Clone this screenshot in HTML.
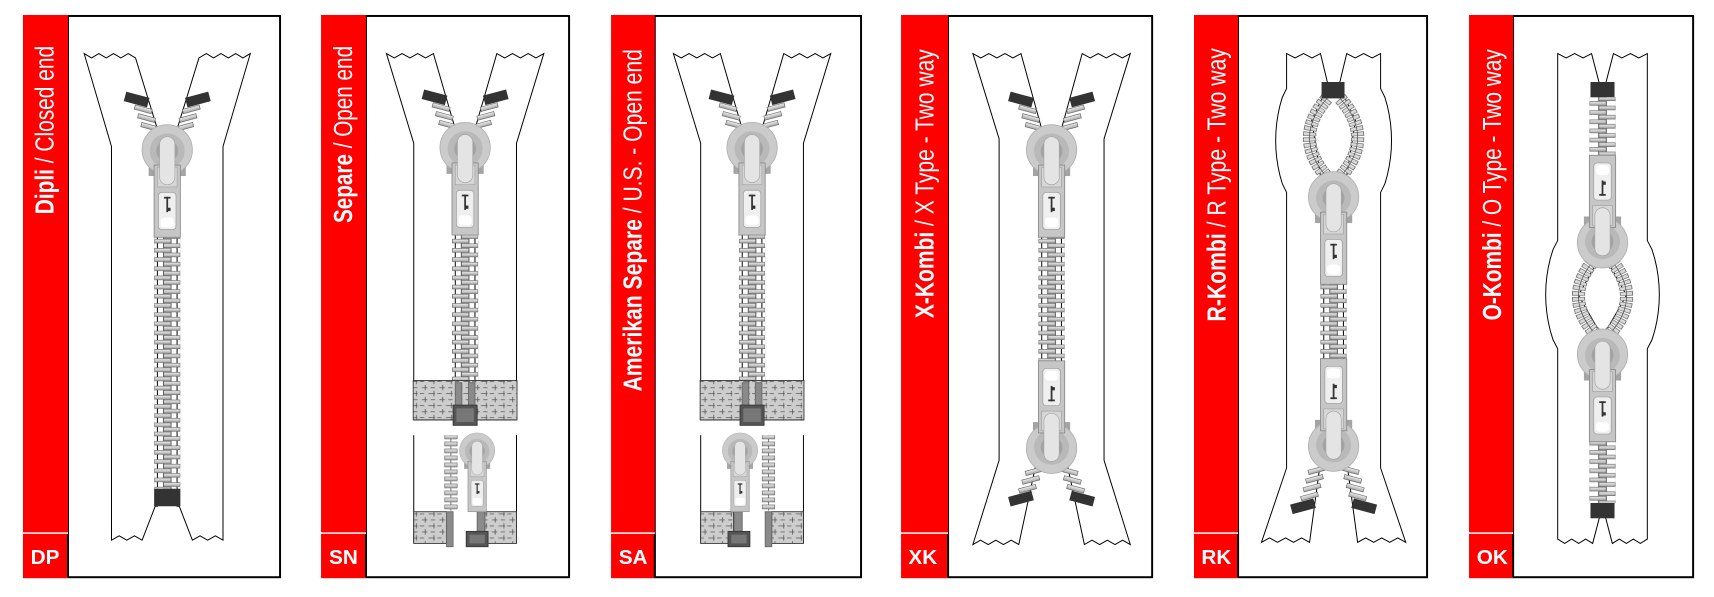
<!DOCTYPE html>
<html><head><meta charset="utf-8">
<style>
html,body{margin:0;padding:0;background:#fff;}
svg{display:block;}
.side{font-family:"Liberation Sans Narrow","Liberation Sans",sans-serif;font-size:24px;fill:#fff;}
.code{font-family:"Liberation Sans",sans-serif;font-size:19px;font-weight:bold;fill:#fff;}
</style></head>
<body>
<svg id="svg" xmlns="http://www.w3.org/2000/svg" width="1714" height="597" viewBox="0 0 1568 546" preserveAspectRatio="none">
<defs>
<linearGradient id="tg" x1="0" y1="0" x2="0" y2="1"><stop offset="0" stop-color="#f0f0f0"/><stop offset="1" stop-color="#a4a4a4"/></linearGradient>
<pattern id="tp" patternUnits="userSpaceOnUse" x="-12" y="0" width="24" height="8.4">
<rect x="0.3" y="0.4" width="15" height="3.5" fill="url(#tg)" stroke="#6a6a6a" stroke-width="0.6"/>
<rect x="8.7" y="4.6" width="15" height="3.5" fill="url(#tg)" stroke="#6a6a6a" stroke-width="0.6"/>
</pattern>
<pattern id="tp2" patternUnits="userSpaceOnUse" x="0" y="0" width="12" height="6.4">
<rect x="0.3" y="1" width="11.4" height="3.6" fill="url(#tg)" stroke="#6a6a6a" stroke-width="0.6"/>
</pattern>
<pattern id="bp" patternUnits="userSpaceOnUse" x="0" y="0" width="16" height="11">
<rect width="16" height="11" fill="#cdcdcd"/>
<path d="M2 2.5h5M10 2.5h4M0 8h4M8 8h6M5 0v5M13 5.5v5" stroke="#555" stroke-width="0.7" fill="none"/>
</pattern>
</defs>
<g id="draw"></g>
<g id="labels">
<text class="side" transform="translate(49,42) rotate(-90)" text-anchor="end" textLength="154" lengthAdjust="spacingAndGlyphs"><tspan font-weight="bold">Dipli</tspan> / Closed end</text>
<text class="side" transform="translate(322,42) rotate(-90)" text-anchor="end" textLength="162" lengthAdjust="spacingAndGlyphs"><tspan font-weight="bold">Separe</tspan> / Open end</text>
<text class="side" transform="translate(587,45) rotate(-90)" text-anchor="end" textLength="313" lengthAdjust="spacingAndGlyphs"><tspan font-weight="bold">Amerikan Separe</tspan> / U.S. - Open end</text>
<text class="side" transform="translate(854,45) rotate(-90)" text-anchor="end" textLength="246" lengthAdjust="spacingAndGlyphs"><tspan font-weight="bold">X-Kombi</tspan> / X Type - Two way</text>
<text class="side" transform="translate(1121,44) rotate(-90)" text-anchor="end" textLength="250" lengthAdjust="spacingAndGlyphs"><tspan font-weight="bold">R-Kombi</tspan> / R Type - Two way</text>
<text class="side" transform="translate(1373,45) rotate(-90)" text-anchor="end" textLength="248" lengthAdjust="spacingAndGlyphs"><tspan font-weight="bold">O-Kombi</tspan> / O Type - Two way</text>
<text class="code" x="28" y="516">DP</text>
<text class="code" x="301" y="516">SN</text>
<text class="code" x="566" y="516">SA</text>
<text class="code" x="831" y="516">XK</text>
<text class="code" x="1099" y="516">RK</text>
<text class="code" x="1351" y="516">OK</text>
</g>
</svg>
<script>
const NS='http://www.w3.org/2000/svg';
const G=document.getElementById('draw');
function el(t,a,p){const e=document.createElementNS(NS,t);for(const k in a)e.setAttribute(k,a[k]);(p||G).appendChild(e);return e;}
function zz(x1,x2,y,a){const p=[];const n=Math.max(2,Math.round(Math.abs(x2-x1)/7));for(let i=0;i<=n;i++)p.push([x1+(x2-x1)*i/n,y+(i%2?a:0)]);return p;}
function bulge(x0,bx,y1,y2){const p=[];for(let i=0;i<=12;i++){const y=y1+(y2-y1)*i/12;p.push([x0+(bx-x0)*Math.pow(Math.sin(Math.PI*i/12),0.7),y]);}return p;}
function tape(cx,L){
 el('polygon',{points:L.map(q=>(cx+q[0])+','+q[1]).join(' '),fill:'#fff',stroke:'#000','stroke-width':0.9});
 el('polygon',{points:L.map(q=>(cx-q[0])+','+q[1]).join(' '),fill:'#fff',stroke:'#000','stroke-width':0.9});
}
function teeth(cx,y1,y2){const g=el('g',{transform:`translate(${cx},0)`});
 el('rect',{x:-3.5,y:y1,width:7,height:y2-y1,fill:'#fff',stroke:'#333','stroke-width':0.7},g);
 el('rect',{x:-12,y:y1,width:24,height:y2-y1,fill:'url(#tp)'},g);}
function teeth2(x,y1,y2){const g=el('g',{transform:`translate(${x},0)`});
 el('line',{x1:6,y1:y1,x2:6,y2:y2,stroke:'#333','stroke-width':0.6},g);
 el('rect',{x:0,y:y1,width:12,height:y2-y1,fill:'url(#tp2)'},g);}
function slider(cx,cy,flip,s){s=s||1;const g=el('g',{transform:`translate(${cx},${cy}) scale(${s},${flip?-s:s})`});
 el('rect',{x:-17,y:8,width:34,height:16,fill:'#a4a4a4'},g);
 el('circle',{r:23,fill:'#cbcbcb',stroke:'#b0b0b0','stroke-width':0.8},g);
 el('circle',{r:16,cy:1,fill:'#b9b9b9'},g);
 el('circle',{r:10,cy:1,fill:'#a3a3a3'},g);
 el('rect',{x:-12,y:14,width:24,height:66,fill:'#c6c6c6',stroke:'#8a8a8a','stroke-width':0.8},g);
 el('rect',{x:-9,y:16,width:18,height:18,fill:'#d6d6d6',stroke:'#9a9a9a','stroke-width':0.5},g);
 el('rect',{x:-7,y:-12,width:14,height:44,rx:7,fill:'#e4e4e4',stroke:'#a4a4a4','stroke-width':0.6},g);
 el('rect',{x:-8,y:39,width:16,height:34,rx:3,fill:'#efefef',stroke:'#999','stroke-width':0.6},g);
 el('rect',{x:-6,y:62,width:12,height:9,rx:3,fill:'#fff'},g);
 el('rect',{x:-0.8,y:43,width:1.6,height:14,fill:'#333'},g);
 el('rect',{x:-3,y:43,width:6,height:1.6,fill:'#333'},g);
 el('rect',{x:0,y:53,width:3,height:3,fill:'#333'},g);
}
function stopR(x,y,w,h,ang){el('rect',{x:-w/2,y:-h/2,width:w,height:h,fill:'#333',transform:`translate(${x},${y}) rotate(${ang})`});}
function bar(x,y,ang){el('rect',{x:-8,y:-2,width:16,height:4,fill:'url(#tg)',stroke:'#666','stroke-width':0.6,transform:`translate(${x},${y}) rotate(${ang})`});}
function openEnd(cx,sy,dir,off,n){off=off||46;n=n||3;
 for(let i=0;i<n;i++){const d=off-9-i*8;const dx=22-i*(9/n);bar(cx-dx,sy-dir*d,15*dir);bar(cx+dx,sy-dir*d,-15*dir);}
 stopR(cx-28,sy-dir*off,22,9,15*dir);stopR(cx+28,sy-dir*off,22,9,-15*dir);}
function block(x1,x2,y1,y2){el('rect',{x:x1,y:y1,width:x2-x1,height:y2-y1,fill:'url(#bp)',stroke:'#333','stroke-width':0.8});}
function rectf(x,y,w,h,f,s){el('rect',{x:x,y:y,width:w,height:h,fill:f,stroke:s||'none','stroke-width':0.8});}
function darkbox(x,y,w,h){rectf(x,y,w,h,'#555','#333');rectf(x+3,y+3,w-6,h-6,'#777');}
function loop(cx,y1,y2,w){
 [-1,1].forEach(s=>{const d=`M${cx+s*6},${y1} Q${cx+s*w},${(y1+y2)/2} ${cx+s*6},${y2}`;
  el('path',{d:d,fill:'none',stroke:'#6f6f6f','stroke-width':12,'stroke-dasharray':'3.8 1.2'});
  el('path',{d:d,fill:'none',stroke:'#d8d8d8','stroke-width':10.5,'stroke-dasharray':'2.6 2.4','stroke-dashoffset':-0.6});
  el('path',{d:d,fill:'none',stroke:'#444','stroke-width':0.6});});
}

const P=[[21,62.2,256.2],[293.7,334.8,520.6],[559,599,787.7],[824.3,867.3,1054],[1092.3,1132.6,1305.5],[1343.9,1384.2,1548.9]];
const T=14.6,B=527.9,SEP=487.6;
P.forEach(p=>{
 el('rect',{x:p[1],y:T,width:p[2]-p[1],height:B-T,fill:'#fff',stroke:'#000','stroke-width':1.8});
 el('rect',{x:p[0],y:T-0.9,width:p[1]-p[0],height:B-T+1.8,fill:'#ff0000'});
 el('line',{x1:p[0],y1:SEP,x2:p[1],y2:SEP,stroke:'#fff','stroke-width':1.4});
 el('line',{x1:p[1],y1:SEP+1,x2:p[1],y2:B,stroke:'#000','stroke-width':1.8});
});

let cx=153;
tape(cx,[...zz(-76,-29,49,4),[-9,118],[-9,463],[-11,463],[-23,494],...zz(-23,-51,494,-4).slice(1),[-51,134]]);
openEnd(cx,137,1);
teeth(cx,216,447);
rectf(cx-12,447,24,16,'#333');
slider(cx,137,false);

cx=425.5;
tape(cx,[...zz(-72,-29,49,4),[-9,118],[-9,384],[-47,384],[-47,131]]);
openEnd(cx,135,1);
teeth(cx,214,348);
block(cx-47.5,cx+47.5,348,384);
rectf(cx-9,350,6,24,'#8a8a8a','#666');rectf(cx+3,350,6,24,'#8a8a8a','#666');
darkbox(cx-11,370.5,22,18.5);
slider(cx,135,false);
el('line',{x1:cx-47,y1:398,x2:cx-47,y2:497,stroke:'#000','stroke-width':0.9});
el('line',{x1:cx+47,y1:398,x2:cx+47,y2:497,stroke:'#000','stroke-width':0.9});
teeth2(cx-19,398,467);
block(cx-47,cx-17,468,497);block(cx+18,cx+47,468,497);
rectf(cx-17,468,6,32,'#8a8a8a','#666');
rectf(cx+11,468,7,18,'#8a8a8a','#666');
darkbox(cx+1,486,20,14);
slider(cx+11,412,false,0.7);

cx=688;
tape(cx,[...zz(-72,-29,49,4),[-9,118],[-9,384],[-47,384],[-47,131]]);
openEnd(cx,135,1);
teeth(cx,214,348);
block(cx-47.5,cx+47.5,348,384);
rectf(cx-9,350,6,24,'#8a8a8a','#666');rectf(cx+3,350,6,24,'#8a8a8a','#666');
darkbox(cx-11,370.5,22,18.5);
slider(cx,135,false);
el('line',{x1:cx-47,y1:398,x2:cx-47,y2:497,stroke:'#000','stroke-width':0.9});
el('line',{x1:cx+47,y1:398,x2:cx+47,y2:497,stroke:'#000','stroke-width':0.9});
teeth2(cx+9,398,467);
block(cx-47,cx-17,468,497);block(cx+18,cx+47,468,497);
rectf(cx+12,468,6,32,'#8a8a8a','#666');
rectf(cx-16,468,7,18,'#8a8a8a','#666');
darkbox(cx-22,486,20,14);
slider(cx-11,412,false,0.7);

cx=962;
tape(cx,[...zz(-72,-28,49,4),[-9,118],[-9,400],[-30,498],...zz(-30,-72,498,-4).slice(1),[-48,421],[-48,127]]);
openEnd(cx,137,1);openEnd(cx,410,-1);
teeth(cx,216,331);
slider(cx,137,false);slider(cx,410,true);

cx=1220;
tape(cx,[...zz(-43,-12,49,4),[-5,78],[-20,110],[-9,180],[-9,400],[-22,496],...zz(-22,-66,496,-4).slice(1),[-43,428],[-43,176],...bulge(-43,-53,176,81).slice(1)]);
loop(cx,90,162,38);
rectf(cx-11,75,21,15,'#333');
teeth(cx,258,330);
openEnd(cx,408,-1,55,4);
slider(cx,180,false);slider(cx,408,true);

cx=1466;
tape(cx,[...zz(-41,-10,49,4),[-3,76],[-3,236],[-22,270],[-3,303],[-3,474],[-9,497],...zz(-9,-41,497,-4).slice(1),[-41,319],...bulge(-41,-52,319,220).slice(1)]);
loop(cx,236,306,38);
rectf(cx-11,75,22,14,'#333');
teeth(cx,89,142);
teeth(cx,404,460);
rectf(cx-11,460,22,14,'#333');
slider(cx,222,true);slider(cx,324,false);
</script>
</body></html>
